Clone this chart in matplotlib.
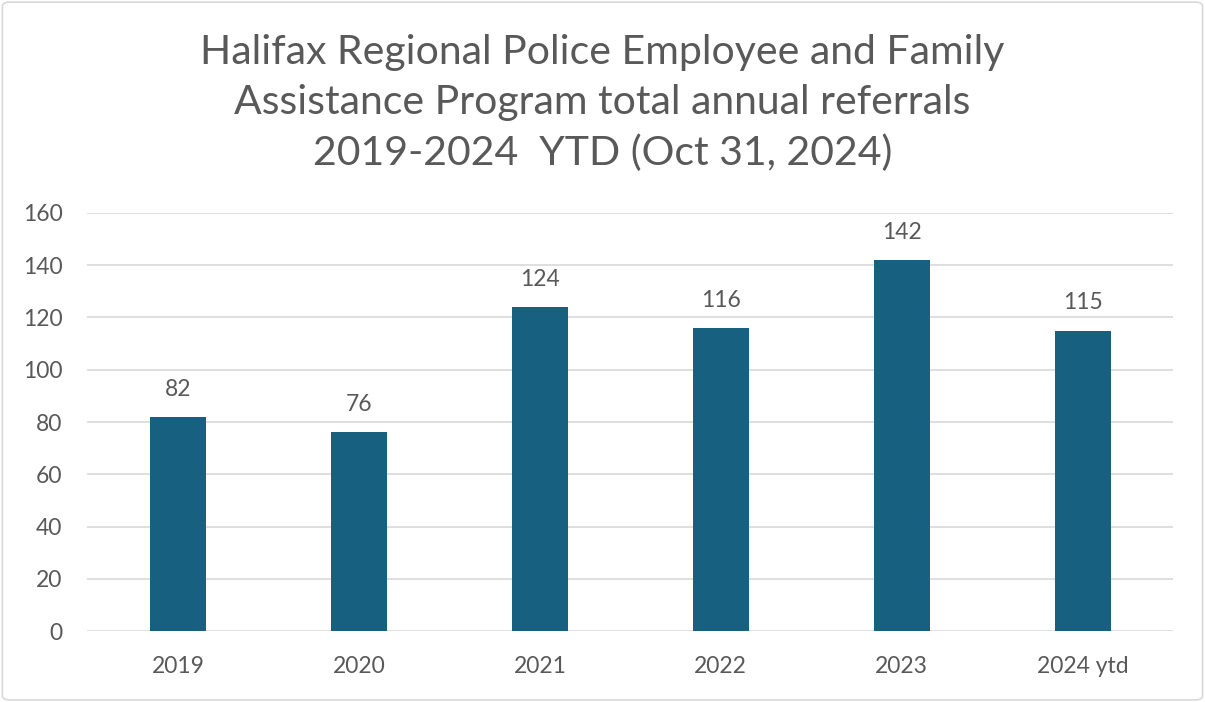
import matplotlib
matplotlib.use("Agg")
import matplotlib.pyplot as plt
from matplotlib.patches import FancyBboxPatch

# data
categories = ["2019", "2020", "2021", "2022", "2023", "2024 ytd"]
referrals = [82, 76, 124, 116, 142, 115]
y_ticks = [0, 20, 40, 60, 80, 100, 120, 140, 160]

title = ("Halifax Regional Police Employee and Family\n"
         "Assistance Program total annual referrals\n"
         "2019-2024  YTD (Oct 31, 2024)")

text_color = "#595959"
bar_color = "#17607f"
grid_color = "#d9d9d9"

plt.rcParams["font.family"] = ["Lato", "DejaVu Sans"]

fig = plt.figure(figsize=(12.05, 7.02), dpi=100)
ax = fig.add_axes([0.0726, 0.1011, 0.901, 0.5955])

x = range(len(categories))
bars = ax.bar(x, referrals, width=0.31, color=bar_color, zorder=3)

ax.set_xlim(-0.5, len(categories) - 0.5)
ax.set_ylim(0, 160)
ax.set_yticks(y_ticks)
ax.set_xticks(list(x))
ax.set_xticklabels(categories)

ax.grid(axis="y", color=grid_color, linewidth=1.2, zorder=0)
for s in ax.spines.values():
    s.set_visible(False)
ax.tick_params(axis="both", length=0, labelsize=16.5, colors=text_color)
ax.tick_params(axis="y", pad=18)
ax.tick_params(axis="x", pad=18)

# data labels above bars
for rect, v in zip(bars, referrals):
    ax.annotate(str(v), (rect.get_x() + rect.get_width() / 2, v),
                xytext=(0, 20), textcoords="offset points",
                ha="center", va="center", fontsize=16.5, color=text_color)

fig.text(0.5, 1 - 103 / 702, title, ha="center", va="center",
         fontsize=29.5, color=text_color, linespacing=1.45)

# light rounded border round the chart area
border = FancyBboxPatch((0.002, 0.003), 0.996, 0.994,
                        boxstyle="round,pad=0,rounding_size=0.006",
                        transform=fig.transFigure, fill=False,
                        edgecolor=grid_color, linewidth=1.2)
fig.patches.append(border)

fig.savefig("out.png", dpi=100, facecolor="white")
